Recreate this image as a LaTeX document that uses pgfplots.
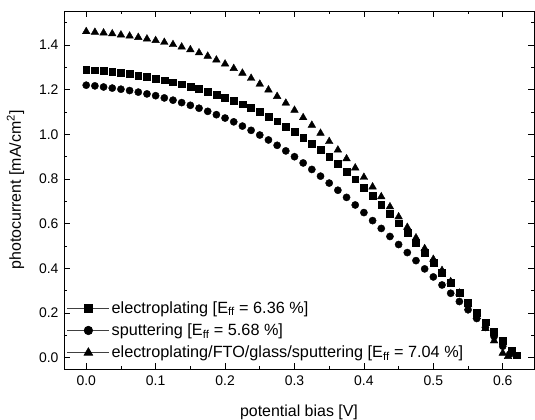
\documentclass[border=0pt]{standalone}
\usepackage{pgfplots}
\pgfplotsset{compat=1.18}
\usepackage{fontspec}
\setmainfont{Liberation Sans}
\setsansfont{Liberation Sans}

\begin{document}
\begin{tikzpicture}
\begin{axis}[
  name=ax,
  scale only axis,
  width=470bp, height=358bp,
  xmin=-0.032, xmax=0.645,
  ymin=-0.05, ymax=1.552,
  xtick={0,0.1,0.2,0.3,0.4,0.5,0.6},
  ytick={0,0.2,0.4,0.6,0.8,1.0,1.2,1.4},
  minor xtick={0.05,0.15,0.25,0.35,0.45,0.55},
  minor ytick={0.1,0.3,0.5,0.7,0.9,1.1,1.3,1.5},
  tick align=inside,
  major tick length=6bp, minor tick length=3.5bp,
  every tick/.style={black, line width=0.8pt},
  axis line style={line width=1pt},
  /pgf/number format/assume math mode=true,
  xticklabel style={/pgf/number format/.cd, fixed, fixed zerofill, precision=1, /tikz/yshift=-3bp},
  yticklabel style={/pgf/number format/.cd, fixed, fixed zerofill, precision=1, /tikz/xshift=-2bp},
  tick label style={font=\fontsize{14}{16}\selectfont},
  label style={font=\fontsize{16}{19}\selectfont},
  xlabel={potential bias [V]},
  ylabel={photocurrent [mA/cm\textsuperscript{2}]},
  xlabel style={yshift=-13bp},
  ylabel style={yshift=8bp},
  legend style={draw=none, fill=none, at={(0.004,0.018)}, anchor=south west,
    font=\fontsize{16.3}{19}\selectfont, row sep=5bp, inner sep=1bp},
  legend cell align=left,
  legend image code/.code={\draw[mark repeat=2,mark phase=2,#1] plot coordinates {(0bp,0bp) (21bp,0bp) (42bp,0bp)};},
]
\addlegendimage{black!75, line width=0.6pt, mark=square*, mark size=4.3bp, mark options={black, solid}}
\addlegendentry{electroplating [E\textsubscript{ff} = 6.36 \%]}
\addlegendimage{black!75, line width=0.6pt, mark=*, mark size=4.3bp, mark options={black, solid}}
\addlegendentry{sputtering [E\textsubscript{ff} = 5.68 \%]}
\addlegendimage{black!75, line width=0.6pt, mark=triangle*, mark size=5bp, mark options={black, solid}}
\addlegendentry{electroplating/FTO/glass/sputtering [E\textsubscript{ff} = 7.04 \%]}
\addplot[only marks, mark=square*, mark size=3.4bp, black, forget plot] coordinates {
(0,1.290)(0.0125,1.287)(0.025,1.284)(0.0375,1.280)(0.05,1.275)(0.0625,1.270)(0.075,1.264)(0.0875,1.257)(0.1,1.250)
(0.1125,1.242)(0.125,1.233)(0.1375,1.224)(0.15,1.214)(0.1625,1.203)(0.175,1.191)(0.1875,1.178)(0.2,1.165)
(0.2125,1.151)(0.225,1.135)(0.2375,1.118)(0.25,1.100)(0.2625,1.080)(0.275,1.059)(0.2875,1.036)(0.3,1.012)
(0.3125,0.986)(0.325,0.959)(0.3375,0.930)(0.35,0.900)(0.3625,0.867)(0.375,0.834)(0.3875,0.799)(0.4,0.762)
(0.4125,0.724)(0.425,0.685)(0.4375,0.644)(0.45,0.602)(0.4625,0.559)(0.475,0.516)(0.4875,0.472)(0.5,0.427)
(0.5125,0.382)(0.525,0.337)(0.5375,0.292)(0.55,0.247)(0.5625,0.203)(0.575,0.159)(0.5875,0.116)(0.6,0.075)
(0.6125,0.034)(0.62,0.012)};
\addplot[only marks, mark=*, mark size=3.6bp, black, forget plot] coordinates {
(0,1.220)(0.0125,1.217)(0.025,1.212)(0.0375,1.207)(0.05,1.202)(0.0625,1.196)(0.075,1.189)(0.0875,1.181)(0.1,1.173)
(0.1125,1.163)(0.125,1.153)(0.1375,1.142)(0.15,1.130)(0.1625,1.117)(0.175,1.103)(0.1875,1.088)(0.2,1.073)
(0.2125,1.056)(0.225,1.037)(0.2375,1.018)(0.25,0.997)(0.2625,0.975)(0.275,0.951)(0.2875,0.926)(0.3,0.900)
(0.3125,0.872)(0.325,0.843)(0.3375,0.813)(0.35,0.782)(0.3625,0.750)(0.375,0.718)(0.3875,0.684)(0.4,0.650)
(0.4125,0.614)(0.425,0.579)(0.4375,0.543)(0.45,0.507)(0.4625,0.471)(0.475,0.435)(0.4875,0.398)(0.5,0.362)
(0.5125,0.326)(0.525,0.289)(0.5375,0.252)(0.55,0.215)(0.5625,0.176)(0.575,0.136)(0.5875,0.095)(0.6,0.052)
(0.61,0.016)};
\addplot[only marks, mark=triangle*, mark size=4.4bp, black, forget plot] coordinates {
(0,1.460)(0.0125,1.457)(0.025,1.454)(0.0375,1.450)(0.05,1.445)(0.0625,1.440)(0.075,1.434)(0.0875,1.427)(0.1,1.420)
(0.1125,1.412)(0.125,1.402)(0.1375,1.391)(0.15,1.379)(0.1625,1.365)(0.175,1.350)(0.1875,1.333)(0.2,1.315)
(0.2125,1.295)(0.225,1.274)(0.2375,1.251)(0.25,1.225)(0.2625,1.199)(0.275,1.170)(0.2875,1.140)(0.3,1.108)
(0.3125,1.075)(0.325,1.041)(0.3375,1.005)(0.35,0.968)(0.3625,0.930)(0.375,0.891)(0.3875,0.850)(0.4,0.808)
(0.4125,0.765)(0.425,0.721)(0.4375,0.676)(0.45,0.631)(0.4625,0.584)(0.475,0.537)(0.4875,0.489)(0.5,0.441)
(0.5125,0.391)(0.525,0.341)(0.5375,0.290)(0.55,0.238)(0.5625,0.185)(0.575,0.131)(0.5875,0.076)(0.6,0.021)
(0.6075,0.006)};
\end{axis}
\pgfresetboundingbox
\path[use as bounding box] ([xshift=-64bp,yshift=-51bp]ax.south west) rectangle ([xshift=1bp,yshift=11bp]ax.north east);
\end{tikzpicture}
\end{document}
